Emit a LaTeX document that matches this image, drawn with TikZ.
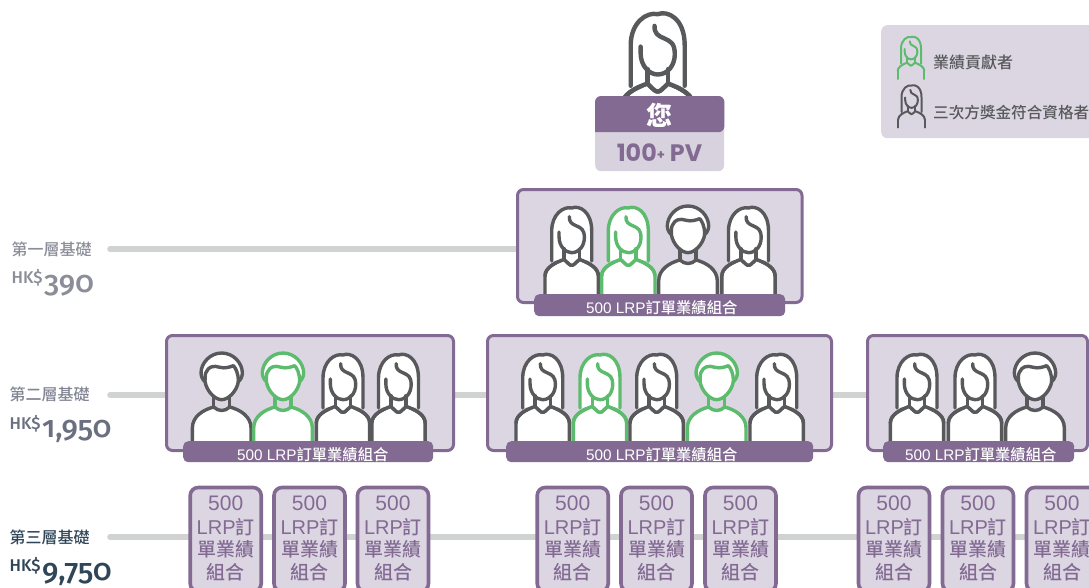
\documentclass[tikz,border=0pt]{standalone}
\usepackage{fontspec}
\setmainfont{Liberation Sans}
\newfontfamily\cjk{Noto Sans CJK TC}
\newfontfamily\cjkm{Noto Sans CJK TC Medium}
\newfontfamily\numf[Numbers=OldStyle]{Fira Sans Medium}
\newfontfamily\popf{Poppins}
\usetikzlibrary{backgrounds}
\definecolor{ppl}{HTML}{836A93}
\definecolor{lite}{HTML}{DCD6E3}
\definecolor{lite2}{HTML}{D8D2DE}
\definecolor{rail}{HTML}{D1D3D2}
\definecolor{ink}{HTML}{58595B}
\definecolor{grn}{HTML}{5DBB6E}
\definecolor{tone1}{HTML}{8B8E98}
\definecolor{tone2}{HTML}{6B7080}
\definecolor{tone3}{HTML}{2F4558}
\newcommand{\barlabel}[1]{\raisebox{#1}[0pt][0pt]{500 LRP{\cjkm 訂單業績組合}}}
\newcommand{\hairpath}{(-60,165) -- (-60,75) .. controls (-60,25) and (-25,0) .. (0,6) .. controls (22,-3) and (60,15) .. (60,75) -- (60,165)}
\newcommand{\shoulderpath}{(-80,210) .. controls (-80,185) and (-50,170) .. (-23,160) .. controls (-12,170) and (-6,178) .. (0,178) .. controls (6,178) and (12,170) .. (23,160) .. controls (50,170) and (80,185) .. (80,210)}
\newcommand{\facepath}{(-38,78) -- (-38,92) .. controls (-38,122) and (-18,140) .. (0,140) .. controls (22,140) and (38,120) .. (38,95) .. controls (38,70) and (28,66) .. (15,60) .. controls (0,54) and (-8,48) .. (-7,32)}
\tikzset{
  x=1pt,y=-1pt,
  rail/.style={draw=rail,line width=5.6pt,line cap=round},
  frame/.style={draw=ppl,fill=lite,line width=3pt,rounded corners=6pt,inner sep=0pt,outer sep=0pt},
  bar/.style={fill=ppl,text=white,rounded corners=5pt,inner sep=0pt,font=\fontsize{15.3}{18}\selectfont},
  small/.style={draw=ppl,fill=lite,line width=3.6pt,rounded corners=8pt,minimum width=71pt,minimum height=104pt,inner sep=0pt,outer sep=0pt,anchor=north},
  smalltxt/.style={text=ppl,align=center,inner sep=0pt,anchor=north,font=\fontsize{19}{22.9}\selectfont},
  pers/.style={line join=round,line cap=round,line width=3.4pt},
  lab/.style={anchor=west,inner sep=0pt,font=\cjkm\fontsize{16}{18}\selectfont},
  hk/.style={anchor=base west,inner sep=0pt,font=\numf\fontsize{17}{18}\selectfont},
  amt/.style={anchor=base west,inner sep=0pt,font=\numf\fontsize{30}{32}\selectfont},
  pics/woman/.style={code={
    \begin{scope}[scale=1/3,draw=#1,fill=white]
      \path[draw,fill] (-80,270) -- (-80,210) .. controls (-80,185) and (-50,170) .. (-23,160) .. controls (-12,170) and (-6,178) .. (0,178) .. controls (6,178) and (12,170) .. (23,160) .. controls (50,170) and (80,185) .. (80,210) -- (80,270);
      \path[fill] (-60,165) -- (-60,75) .. controls (-60,25) and (-25,0) .. (0,6) .. controls (22,-3) and (60,15) .. (60,75) -- (60,165) -- (23,160) -- (0,178) -- (-23,160) -- cycle;
      \draw \hairpath;
      \draw \shoulderpath;
      \draw \facepath;
      \draw (-23,128) -- (-23,160) (23,128) -- (23,160);
    \end{scope}}},
  pics/womanline/.style={code={
    \begin{scope}[scale=1/3,draw=#1]
      \draw \hairpath;
      \draw \shoulderpath;
      \draw (-80,210) -- (-80,258) (80,210) -- (80,258);
      \draw \facepath;
      \draw (-23,128) -- (-23,160) (23,128) -- (23,160);
    \end{scope}}},
  pics/man/.style={code={
    \begin{scope}[scale=1/3,draw=#1,fill=white]
      \path[draw,fill] (-88,270) -- (-88,225) .. controls (-88,190) and (-55,170) .. (-24,162) .. controls (-10,176) and (10,176) .. (24,162) .. controls (55,170) and (88,190) .. (88,225) -- (88,270);
      \draw (-24,125) -- (-24,162) (24,125) -- (24,162);
      \path[draw,fill] (0,0) .. controls (35,0) and (62,30) .. (62,60) .. controls (62,72) and (55,82) .. (50,86) .. controls (45,115) and (20,140) .. (0,140) .. controls (-20,140) and (-45,115) .. (-50,86) .. controls (-55,82) and (-62,72) .. (-62,60) .. controls (-62,30) and (-35,0) .. (0,0) -- cycle;
      \draw (-50,86) .. controls (-50,70) and (-50,60) .. (-45,55) .. controls (-40,42) and (-25,36) .. (-5,43) .. controls (10,47) and (25,42) .. (35,38) .. controls (42,45) and (50,60) .. (50,86);
    \end{scope}}}
}
\begin{document}
\begin{tikzpicture}
\useasboundingbox (0,0) rectangle (1089,587);
\path[clip] (0,0) rectangle (1089,587);

% legend
\node[fill=lite,rounded corners=6pt,minimum width=230pt,minimum height=113pt,inner sep=0pt,anchor=north west] (legend) at (881,25) {};
\pic[pers,scale=.5,line width=2pt] (lg1) at (911,36) {womanline=grn};
\pic[pers,scale=.5,line width=2pt] (lg2) at (911.5,84.5) {womanline=ink};
\node[lab,text=ink] (lgt1) at (933,62) {業績貢獻者};
\node[lab,text=ink,font=\cjkm\fontsize{15.6}{18}\selectfont] (lgt2) at (933,113) {三次方獎金符合資格者};

% you
\pic[pers,scale=1.35,line width=4.4pt] (youp) at (657.7,11.5) {woman=ink};
\node[fill=lite2,rounded corners=6pt,minimum width=129pt,minimum height=75pt,inner sep=0pt,anchor=north west] (youbox) at (595,96) {};
\fill[ppl,rounded corners=6pt] (youbox.west) ++(0,-1.5) -- (youbox.north west) -- (youbox.north east) -- ([yshift=1.5pt]youbox.east) [sharp corners] -- cycle;
\node[text=white,inner sep=0pt,font=\cjk\bfseries\fontsize{26}{28}\selectfont] (youtxt) at (659.5,115) {您};
\node[text=ppl,inner sep=0pt,font=\popf\bfseries\fontsize{23.8}{26}\selectfont] (youpv) at (659.5,153) {100\raisebox{2pt}{\fontsize{13}{14}\selectfont+} PV};

% tier 1
\node[frame,minimum width=284.5pt,minimum height=113pt,anchor=north west] (t1) at (517.5,189.5) {};
\foreach \n/\k/\c/\x in {a/woman/ink/571.7,b/woman/grn/628.3,c/man/ink/688,d/woman/ink/748.5}
  \pic[pers] (p1\n) at (\x,206) {\k=\c};
\node[bar,minimum width=251pt,minimum height=22pt,anchor=north west] (t1bar) at (534,294) {\hspace{4pt}\barlabel{-8.4pt}};

% tier 2
\node[frame,minimum width=287pt,minimum height=115pt,anchor=north west] (t2a) at (166.5,335.5) {};
\node[frame,minimum width=344pt,minimum height=115pt,anchor=north west] (t2b) at (487.5,335.5) {};
\node[frame,minimum width=220pt,minimum height=115pt,anchor=north west] (t2c) at (867.5,335.5) {};
\foreach \n/\k/\c/\x in {a/man/ink/221.7,b/man/grn/283,c/woman/ink/343,d/woman/ink/398.5,
  e/woman/ink/542.7,f/woman/grn/600,g/woman/ink/656.7,h/man/grn/716.7,i/woman/ink/776.7,
  j/woman/ink/917,k/woman/ink/975,l/man/ink/1035}
  \pic[pers] (p2\n) at (\x,353) {\k=\c};
\node[bar,minimum width=250pt,minimum height=21pt,anchor=north west] (t2abar) at (183,441) {\hspace{9pt}\barlabel{-9pt}};
\node[bar,minimum width=307pt,minimum height=21pt,anchor=north west] (t2bbar) at (506,441) {\hspace{4pt}\barlabel{-9pt}};
\node[bar,minimum width=191pt,minimum height=21pt,anchor=north west] (t2cbar) at (883,441) {\hspace{4pt}\barlabel{-9pt}};

% tier 3
\foreach \n/\x in {a/225.7,b/309.5,c/393,d/572.7,e/656.5,f/740.5,g/894,h/978,i/1062}{
  \node[small] (t3\n) at (\x,487.5) {};
  \node[smalltxt] (t3\n txt) at (\x,495.5) {{\fontsize{21}{23}\selectfont 500}\\[1pt]{\fontsize{20}{23}\selectfont LRP}{\cjkm 訂}\\[-0.5pt]{\cjkm 單業績}\\{\cjkm 組合}};
}

% rails
\coordinate (r1) at (110,249);
\coordinate (r2) at (110,395);
\coordinate (r3) at (110,537);
\begin{pgfonlayer}{background}
  \draw[rail] (r1) -- (r1 -| t1.west);
  \draw[rail] (r2) -- (r2 -| t2a.west);
  \draw[rail,line cap=butt] (r2 -| t2a.east) -- (r2 -| t2b.west);
  \draw[rail,line cap=butt] (r2 -| t2b.east) -- (r2 -| t2c.west);
  \draw[rail] (r3) -- (r3 -| t3a.west);
  \draw[rail,line cap=butt] (r3 -| t3a.east) -- (r3 -| t3b.west);
  \draw[rail,line cap=butt] (r3 -| t3b.east) -- (r3 -| t3c.west);
  \draw[rail,line cap=butt] (r3 -| t3c.east) -- (r3 -| t3d.west);
  \draw[rail,line cap=butt] (r3 -| t3d.east) -- (r3 -| t3e.west);
  \draw[rail,line cap=butt] (r3 -| t3e.east) -- (r3 -| t3f.west);
  \draw[rail,line cap=butt] (r3 -| t3f.east) -- (r3 -| t3g.west);
  \draw[rail,line cap=butt] (r3 -| t3g.east) -- (r3 -| t3h.west);
  \draw[rail,line cap=butt] (r3 -| t3h.east) -- (r3 -| t3i.west);
\end{pgfonlayer}

% tier labels
\node[lab,text=tone1] (l1) at (11.5,249) {第一層基礎};
\node[hk,text=tone1] (l1hk) at (11.5,283) {HK\$};
\node[amt,text=tone1] (l1a) at (44,292) {390};
\node[lab,text=tone2!85!white] (l2) at (9.5,394) {第二層基礎};
\node[hk,text=tone2] (l2hk) at (9.5,429) {HK\$};
\node[amt,text=tone2] (l2a) at (42,437) {1,950};
\node[lab,text=tone3] (l3) at (9.5,537) {第三層基礎};
\node[hk,text=tone3] (l3hk) at (9.5,571.5) {HK\$};
\node[amt,text=tone3] (l3a) at (42,580) {9,750};
\end{tikzpicture}
\end{document}
